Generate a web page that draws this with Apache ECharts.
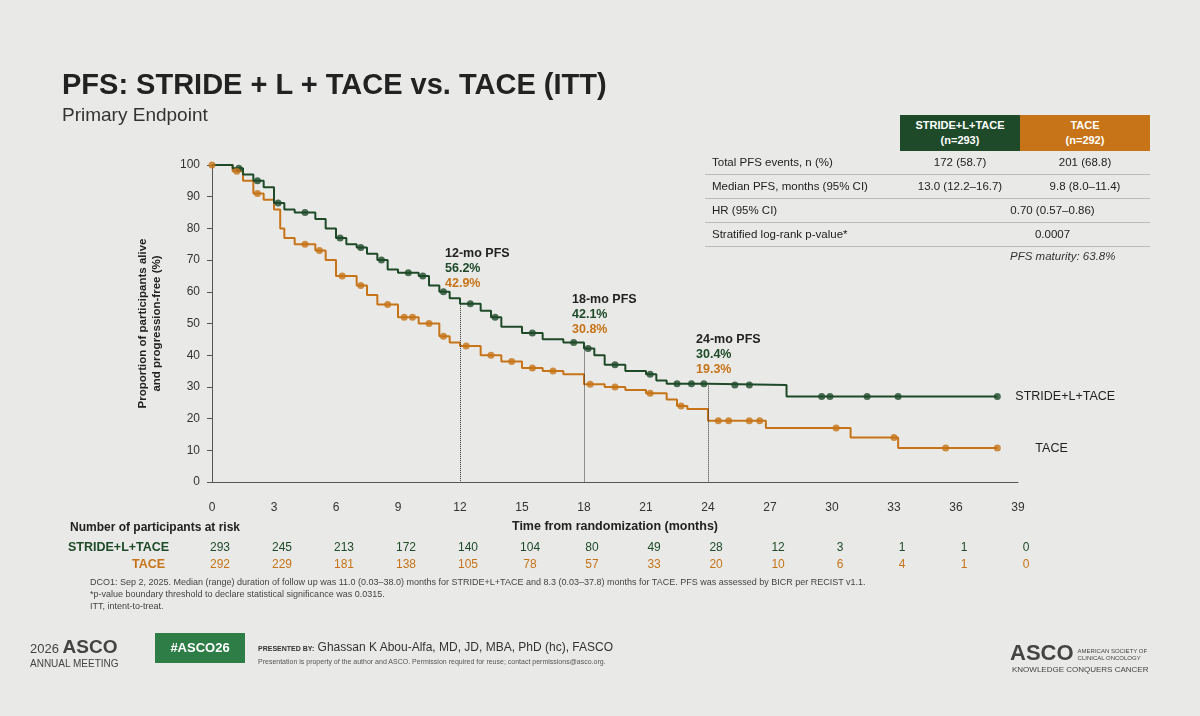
<!DOCTYPE html>
<html lang="en">
<head>
<meta charset="UTF-8">
<title>PFS</title>
<script src="https://cdn.jsdelivr.net/npm/echarts@6/dist/echarts.min.js"></script>
<style>
  body { margin:0; width:1200px; height:716px; background:#e9e9e7; font-family:"Liberation Sans", Arial, sans-serif; overflow:hidden; }
  #chart { position:absolute; left:0; top:0; width:1200px; height:716px; }
  .t { position:absolute; white-space:nowrap; }
  .tb { position:absolute; left:705px; width:445px; font-size:11.5px; color:#222; }
  .tb .row { height:23px; border-bottom:1px solid #bbb; position:relative; }
  .tb .row span { position:absolute; top:5px; }
  .risk span { position:absolute; transform:translateX(-50%); font-size:12px; }
</style>
</head>
<body>
<div id="chart"></div>
<div class="t" style="left:62px;top:68px;font-size:29px;font-weight:bold;color:#222">PFS: STRIDE + L + TACE vs. TACE (ITT)</div>
<div class="t" style="left:62px;top:104px;font-size:19px;color:#333">Primary Endpoint</div>

<div class="t" style="left:900px;top:115px;width:120px;height:36px;background:#1e4a2a;color:#fff;font-size:11px;font-weight:bold;text-align:center;line-height:15px;padding-top:3px;box-sizing:border-box">STRIDE+L+TACE<br>(n=293)</div>
<div class="t" style="left:1020px;top:115px;width:130px;height:36px;background:#c77418;color:#fff;font-size:11px;font-weight:bold;text-align:center;line-height:15px;padding-top:3px;box-sizing:border-box">TACE<br>(n=292)</div>
<div class="tb" style="top:151px" id="tbl"></div>
<div class="t" style="left:1010px;top:250px;font-size:11.5px;font-style:italic;color:#333">PFS maturity: 63.8%</div>

<div class="t" style="left:70px;top:520px;font-size:12px;font-weight:bold;color:#222">Number of participants at risk</div>
<div class="t" style="left:68px;top:540px;font-size:12.5px;font-weight:bold;color:#1e4a2a">STRIDE+L+TACE</div>
<div class="t" style="left:132px;top:557px;font-size:12.5px;font-weight:bold;color:#c77418">TACE</div>
<div class="risk" id="risk1" style="position:absolute;left:0;top:540px;color:#1e4a2a"></div>
<div class="risk" id="risk2" style="position:absolute;left:0;top:557px;color:#c77418"></div>
<div class="t" style="left:90px;top:576px;font-size:9px;color:#444;line-height:12px">DCO1: Sep 2, 2025. Median (range) duration of follow up was 11.0 (0.03–38.0) months for STRIDE+L+TACE and 8.3 (0.03–37.8) months for TACE. PFS was assessed by BICR per RECIST v1.1.<br>*p-value boundary threshold to declare statistical significance was 0.0315.<br>ITT, intent-to-treat.</div>

<div class="t" style="left:30px;top:636px;font-size:19px;color:#444"><span style="font-size:13px">2026 </span><b>ASCO</b></div>
<div class="t" style="left:30px;top:658px;font-size:10px;color:#444">ANNUAL MEETING</div>
<div class="t" style="left:155px;top:633px;width:90px;height:30px;background:#2e7d46;color:#fff;font-size:13px;font-weight:bold;text-align:center;line-height:30px">#ASCO26</div>
<div class="t" style="left:258px;top:640px;font-size:12px;color:#333"><span style="font-size:7px;font-weight:bold">PRESENTED BY:</span> Ghassan K Abou-Alfa, MD, JD, MBA, PhD (hc), FASCO</div>
<div class="t" style="left:258px;top:658px;font-size:7px;color:#555">Presentation is property of the author and ASCO. Permission required for reuse; contact permissions@asco.org.</div>
<div class="t" style="left:1010px;top:640px;font-size:22px;font-weight:bold;color:#444">ASCO<span style="font-size:6px;font-weight:normal;display:inline-block;line-height:7px;margin-left:4px">AMERICAN SOCIETY OF<br>CLINICAL ONCOLOGY</span></div>
<div class="t" style="left:1012px;top:665px;font-size:8px;color:#444">KNOWLEDGE CONQUERS CANCER</div>

<script>
var months = [0, 3, 6, 9, 12, 15, 18, 21, 24, 27, 30, 33, 36, 39];
var riskStride = [293, 245, 213, 172, 140, 104, 80, 49, 28, 12, 3, 1, 1, 0];
var riskTace = [292, 229, 181, 138, 105, 78, 57, 33, 20, 10, 6, 4, 1, 0];

var strideCurve = [[0,100],[0.8,100],[1,99],[1.5,97],[2,95],[2.5,93],[3,88],[3.5,86],[4,85],[5,83],[5.5,80],[6,77],[6.5,75],[7,74],[7.5,72],[8,70],[8.5,67],[9,66],[10,65],[10.5,62],[11,60],[11.5,58],[12,56.2],[13,54],[13.5,52],[14,49],[15,47],[16,45],[17,44],[18,42.1],[18.5,40],[19,37],[20,35],[21,34],[21.5,32],[22,31],[24,30.6],[27.8,30.6],[27.8,27],[38,27]];
var taceCurve = [[0,100],[1,98],[1.5,95],[2,91],[2.5,89],[3,86],[3.3,80],[3.5,77],[4,75],[5,73],[5.5,70],[6,65],[7,62],[7.5,59],[8,56],[9,52],[10,50],[11,46],[11.5,44],[12,42.9],[13,40],[14,38],[15,36],[16,35],[17,34],[18,30.8],[19,30],[20,29],[21,28],[22,26],[22.5,24],[23,23],[24,19.3],[26.8,19.3],[26.8,17],[30.9,17],[30.9,14],[33.2,14],[33.2,10.7],[38,10.7]];
// censoring times (months)
var strideCensorT = [1.3, 2.2, 3.2, 4.5, 6.2, 7.2, 8.2, 9.5, 10.2, 11.2, 12.5, 13.7, 15.5, 17.5, 18.2, 19.5, 21.2, 22.5, 23.2, 23.8, 25.3, 26, 29.5, 29.9, 31.7, 33.2, 38];
var taceCensorT = [0, 1.2, 2.2, 4.5, 5.2, 6.3, 7.2, 8.5, 9.3, 9.7, 10.5, 11.2, 12.3, 13.5, 14.5, 15.5, 16.5, 18.3, 19.5, 21.2, 22.7, 24.5, 25, 26, 26.5, 30.2, 33, 35.5, 38];

var green = '#1e4a2a', orange = '#c77418';

function curveAt(curve, t) {
    var y = curve[0][1];
    for (var i = 0; i < curve.length; i++) {
        if (curve[i][0] <= t) y = curve[i][1]; else break;
    }
    return y;
}
function censorPoints(curve, times) {
    return times.map(function (t) { return [t, curveAt(curve, t)]; });
}

function px(m) { return 212 + m * 20.67; }
[['risk1', riskStride], ['risk2', riskTace]].forEach(function (r) {
    var el = document.getElementById(r[0]);
    r[1].forEach(function (v, i) {
        var s = document.createElement('span');
        s.style.left = (px(months[i]) + 8) + 'px';
        s.textContent = v;
        el.appendChild(s);
    });
});

var rows = [['Total PFS events, n (%)', '172 (58.7)', '201 (68.8)'], ['Median PFS, months (95% CI)', '13.0 (12.2–16.7)', '9.8 (8.0–11.4)'], ['HR (95% CI)', '0.70 (0.57–0.86)', null], ['Stratified log-rank p-value*', '0.0007', null]];
var tbl = document.getElementById('tbl');
rows.forEach(function (r) {
    var d = document.createElement('div');
    d.className = 'row';
    if (r[2] === null) {
        d.innerHTML = '<span style="left:7px">' + r[0] + '</span><span style="left:250px;width:195px;text-align:center">' + r[1] + '</span>';
    } else {
        d.innerHTML = '<span style="left:7px">' + r[0] + '</span><span style="left:195px;width:120px;text-align:center">' + r[1] + '</span><span style="left:315px;width:130px;text-align:center">' + r[2] + '</span>';
    }
    tbl.appendChild(d);
});

var myChart = echarts.init(document.getElementById('chart'));
function vline(m, v) {
    return [{ coord: [m, v] }, { coord: [m, 0] }];
}
option = {
    animation: false,
    grid: { left: 212, right: 182, top: 165, bottom: 234 },
    xAxis: {
        type: 'value', min: 0, max: 39, interval: 3,
        axisLine: { lineStyle: { color: '#555' } },
        axisTick: { show: false },
        splitLine: { show: false },
        axisLabel: { color: '#333', fontSize: 12, margin: 20 },
        name: 'Time from randomization (months)', nameLocation: 'middle', nameGap: 38,
        nameTextStyle: { color: '#222', fontSize: 12.5, fontWeight: 'bold' }
    },
    yAxis: {
        type: 'value', min: 0, max: 100, interval: 10,
        axisLine: { show: true, lineStyle: { color: '#555' } },
        axisTick: { show: true, length: 5 },
        splitLine: { show: false },
        axisLabel: { color: '#333', fontSize: 12, margin: 12 },
        name: 'Proportion of participants alive\nand progression-free (%)', nameLocation: 'middle', nameGap: 48,
        nameTextStyle: { color: '#222', fontSize: 11.5, fontWeight: 'bold', lineHeight: 14 }
    },
    series: [
        {
            type: 'line', data: strideCurve, step: 'end', symbol: 'none', z: 3,
            lineStyle: { color: green, width: 2 },
            markLine: {
                silent: true, symbol: 'none',
                lineStyle: { color: '#333', type: 'dotted', width: 1 },
                label: { show: false },
                data: [vline(12, 56.2), vline(18, 42.1), vline(24, 30.4)]
            },
            endLabel: { show: true, formatter: 'STRIDE+L+TACE', color: '#222', fontSize: 12.5, distance: 18 }
        },
        {
            type: 'line', data: taceCurve, step: 'end', symbol: 'none', z: 2,
            lineStyle: { color: orange, width: 2 },
            endLabel: { show: true, formatter: 'TACE', color: '#222', fontSize: 12.5, distance: 38 }
        },
        { type: 'scatter', data: censorPoints(strideCurve, strideCensorT), symbolSize: 7, itemStyle: { color: green }, z: 4 },
        { type: 'scatter', data: censorPoints(taceCurve, taceCensorT), symbolSize: 7, itemStyle: { color: orange }, z: 4 }
    ],
    graphic: [
        { type: 'text', left: 445, top: 247, style: { text: '12-mo PFS', font: 'bold 12.5px Liberation Sans', fill: '#222' } },
        { type: 'text', left: 445, top: 262, style: { text: '56.2%', font: 'bold 12.5px Liberation Sans', fill: green } },
        { type: 'text', left: 445, top: 277, style: { text: '42.9%', font: 'bold 12.5px Liberation Sans', fill: orange } },
        { type: 'text', left: 572, top: 293, style: { text: '18-mo PFS', font: 'bold 12.5px Liberation Sans', fill: '#222' } },
        { type: 'text', left: 572, top: 308, style: { text: '42.1%', font: 'bold 12.5px Liberation Sans', fill: green } },
        { type: 'text', left: 572, top: 323, style: { text: '30.8%', font: 'bold 12.5px Liberation Sans', fill: orange } },
        { type: 'text', left: 696, top: 333, style: { text: '24-mo PFS', font: 'bold 12.5px Liberation Sans', fill: '#222' } },
        { type: 'text', left: 696, top: 348, style: { text: '30.4%', font: 'bold 12.5px Liberation Sans', fill: green } },
        { type: 'text', left: 696, top: 363, style: { text: '19.3%', font: 'bold 12.5px Liberation Sans', fill: orange } }
    ]
};
myChart.setOption(option);
</script>
</body>
</html>
